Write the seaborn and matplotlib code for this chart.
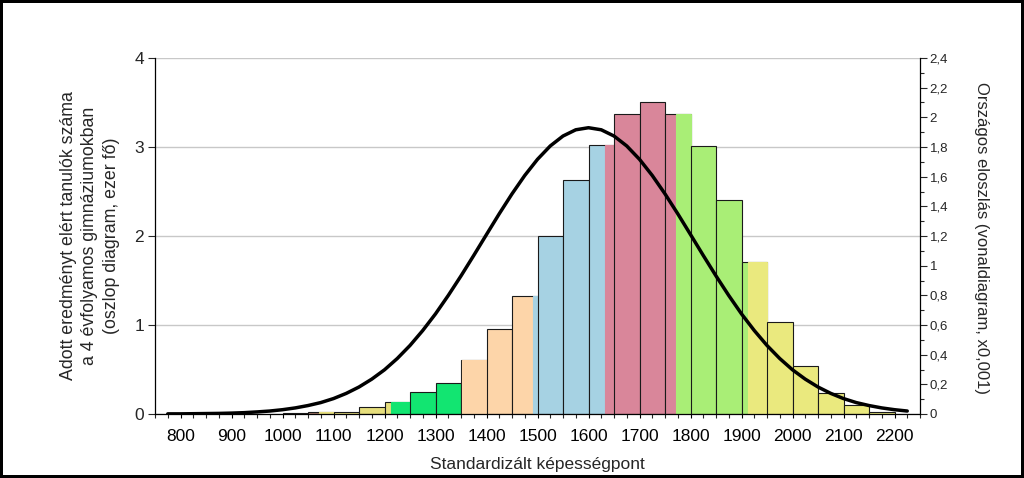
import matplotlib
matplotlib.use('Agg')
import matplotlib.pyplot as plt
from matplotlib.ticker import MultipleLocator, FuncFormatter
import seaborn as sns

# Oszlopdiagram: 50 pontos savok kezdopontja es a tanulok szama (ezer fo)
sav_kezdet = [1000, 1050, 1100, 1150, 1200, 1250, 1300, 1350, 1400, 1450, 1500, 1550,
              1600, 1650, 1700, 1750, 1800, 1850, 1900, 1950, 2000, 2050, 2100, 2150]
tanulok = [0.015, 0.02, 0.025, 0.075, 0.14, 0.25, 0.35, 0.61, 0.96, 1.33, 2.0, 2.63,
           3.02, 3.37, 3.51, 3.37, 3.01, 2.40, 1.71, 1.03, 0.54, 0.235, 0.10, 0.025]
sav_szelesseg = 50

# Kepessegszintek hatarai es szinei
szint_hatar = [1072, 1212, 1352, 1492, 1632, 1772, 1912]
szint_szin = ['#A97B6B', '#E6DE7C', '#12E571', '#FDD5A9',
              '#A6D2E3', '#D9869A', '#A9EE76', '#EAE97E']

# Orszagos eloszlas (vonaldiagram, x0,001)
gorbe_x = list(range(775, 2226, 25))
gorbe_y = [0.001, 0.001, 0.002, 0.003, 0.004, 0.006, 0.009, 0.014, 0.020, 0.029,
           0.041, 0.057, 0.077, 0.104, 0.139, 0.182, 0.235, 0.298, 0.374, 0.462,
           0.563, 0.675, 0.799, 0.931, 1.069, 1.210, 1.350, 1.484, 1.608, 1.717,
           1.807, 1.874, 1.916, 1.930,
           1.916, 1.874, 1.807, 1.717, 1.608, 1.484, 1.350, 1.210, 1.069, 0.931,
           0.799, 0.675, 0.563, 0.462, 0.374, 0.298, 0.235, 0.182, 0.139, 0.104,
           0.077, 0.057, 0.041, 0.029, 0.020]

x_tick = list(range(800, 2201, 100))


def szint(ertek):
    return sum(1 for h in szint_hatar if ertek >= h)


sns.set_style('ticks')
plt.rcParams['font.family'] = ['Liberation Sans', 'DejaVu Sans']

fig = plt.figure(figsize=(10.24, 4.78), dpi=100)
fig.patch.set_edgecolor('black')
fig.patch.set_linewidth(3)
ax = fig.add_axes([155 / 1024, 1 - 414 / 478, 765 / 1024, 356 / 478])

# Oszlopok, a szinthatar utani resz kulon szinnel
for s, h in zip(sav_kezdet, tanulok):
    ax.bar(s, h, width=sav_szelesseg, align='edge', color=szint_szin[szint(s)],
           edgecolor='#1a1a1a', linewidth=0.8)
    for b in szint_hatar:
        if s < b < s + sav_szelesseg:
            c = szint_szin[szint(b)]
            ax.bar(b, h, width=s + sav_szelesseg - b, align='edge', color=c,
                   edgecolor=c, linewidth=0.8)

ax.set_xlim(750, 2250)
ax.set_ylim(0, 4)
ax.set_xticks(x_tick)
ax.xaxis.set_minor_locator(MultipleLocator(25))
ax.set_yticks([0, 1, 2, 3, 4])
ax.tick_params(axis='x', which='major', length=3, width=0.8, pad=8, labelsize=12.5, colors='black')
ax.tick_params(axis='x', which='minor', length=3, width=0.8)
ax.tick_params(axis='y', length=5, width=0.8, pad=3, labelsize=12.5)
ax.yaxis.grid(True, color='#c8c8c8', linewidth=1)
ax.set_axisbelow(True)
ax.spines['top'].set_visible(False)
ax.spines['right'].set_visible(False)
for sp in ['left', 'bottom']:
    ax.spines[sp].set_color('black')
    ax.spines[sp].set_linewidth(0.9)

ax2 = ax.twinx()
sns.lineplot(x=gorbe_x, y=gorbe_y, ax=ax2, color='black', linewidth=2.5)
ax2.set_ylim(0, 2.4)
ax2.yaxis.set_major_locator(MultipleLocator(0.2))
ax2.yaxis.set_minor_locator(MultipleLocator(0.1))
ax2.yaxis.set_major_formatter(FuncFormatter(lambda v, p: f'{v:.10g}'.replace('.', ',')))
ax2.tick_params(axis='y', which='major', length=5, width=0.8, pad=2, labelsize=9.5)
ax2.tick_params(axis='y', which='minor', length=3, width=0.8)
for sp in ['top', 'left', 'bottom']:
    ax2.spines[sp].set_visible(False)
ax2.spines['right'].set_color('black')
ax2.spines['right'].set_linewidth(0.9)

fig.text(90 / 1024, 1 - 236 / 478,
         'Adott eredményt elért tanulók száma\na 4 évfolyamos gimnáziumokban\n(oszlop diagram, ezer fő)',
         rotation=90, ha='center', va='center', multialignment='center', fontsize=12.8, linespacing=1.38)
fig.text(982 / 1024, 1 - 238 / 478, 'Országos eloszlás (vonaldiagram, x0,001)',
         rotation=270, ha='center', va='center', fontsize=12)
fig.text(537 / 1024, 1 - 465 / 478, 'Standardizált képességpont',
         ha='center', va='center', fontsize=12.5)

fig.savefig('out.png', dpi=100)
